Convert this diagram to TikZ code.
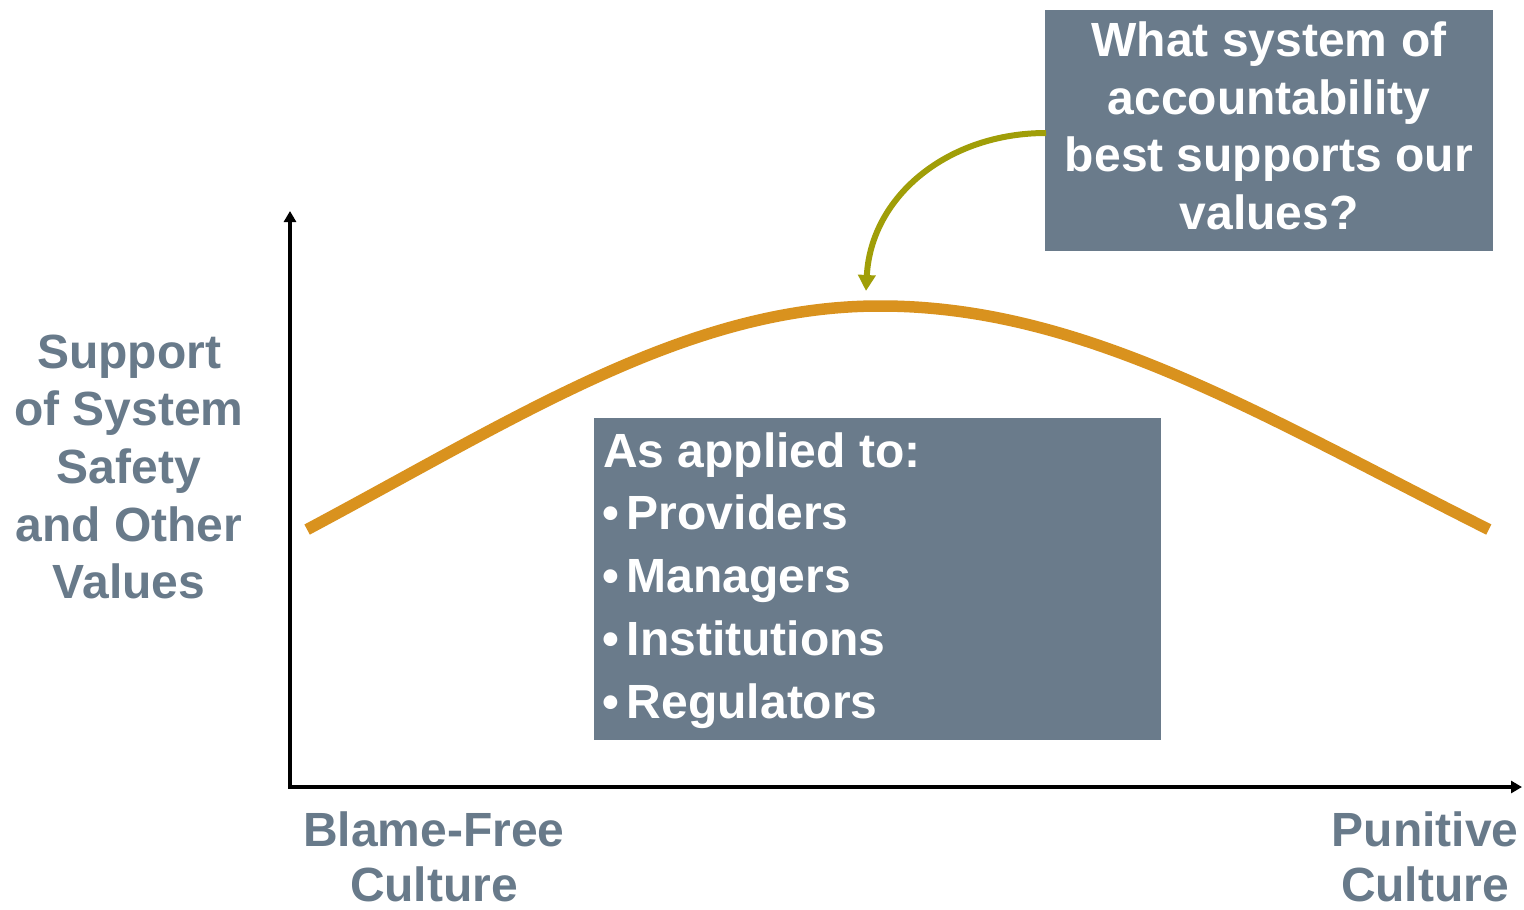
\documentclass[tikz,border=0pt]{standalone}
\usepackage{fontspec}
\setmainfont{Liberation Sans}
\usetikzlibrary{arrows.meta}
\definecolor{slate}{RGB}{106,123,139}
\definecolor{labelgray}{RGB}{104,122,138}
\definecolor{amber}{RGB}{217,146,30}
\definecolor{olive}{RGB}{160,158,8}
\begin{document}
\begin{tikzpicture}[x=1pt,y=-1pt,
  bigtext/.style={font=\fontsize{48}{57.6}\selectfont\bfseries},
  panel/.style={fill=slate,draw=none,inner sep=0pt,anchor=north west},
  paneltext/.style={bigtext,text=white,inner sep=0pt},
  axislabel/.style={bigtext,text=labelgray,align=center,inner sep=0pt},
  baselabel/.style={bigtext,text=labelgray,inner sep=0pt,anchor=base},
  axis/.style={line width=4pt,-{Triangle[length=11pt,width=12pt]}},
  hump/.style={line width=11.5pt,amber,line cap=butt},
  pointer/.style={line width=6pt,olive,-{Triangle[length=16pt,width=17pt]}}]
\useasboundingbox (0,0) rectangle (1524,910);

% axes
\coordinate (origin) at (290,787);
\coordinate (ytop) at (290,211);
\coordinate (xend) at (1522,787);
\draw[axis] ([yshift=2pt]origin) -- (ytop);
\draw[axis] ([xshift=-2pt]origin) -- (xend);

% axis labels
\node[axislabel] (ylab) at (129,467) {Support\\of System\\Safety\\and Other\\Values};
\node[baselabel] (xleft1) at (434,846) {Blame-Free};
\node[baselabel] (xleft2) at (434,901) {Culture};
\node[baselabel] (xright1) at (1425,846) {Punitive};
\node[baselabel] (xright2) at (1425,901) {Culture};

% the hump curve: a bell built from a cosine and a Gaussian (t in hundreds of pt),
% the right flank a little wider than the left
\draw[hump] plot[domain=-5.9:0,samples=80,variable=\t]
    ({880+97.1*\t},{306+150*(1-cos(\t/4.5 r))+160*(1-exp(-\t*\t/28.88))})
  -- plot[domain=0:5.9,samples=80,variable=\t]
    ({880+103.2*\t},{306+150*(1-cos(\t/4.5 r))+160*(1-exp(-\t*\t/28.88))});

% question box
\node[panel,minimum width=448pt,minimum height=241pt] (qbox) at (1045,10) {};
\node[paneltext,align=center] (qtext) at (1269,126)
  {What system of\\accountability\\best supports our\\values?};

% applied-to box
\node[panel,minimum width=567pt,minimum height=322pt] (abox) at (594,418) {};
\node[paneltext,anchor=base west] (a0) at (603,467) {As applied to:};
\node[paneltext,anchor=base west] (a1) at (602,529) {\textbullet\,Providers};
\node[paneltext,anchor=base west] (a2) at (602,592) {\textbullet\,Managers};
\node[paneltext,anchor=base west] (a3) at (602,655) {\textbullet\,Institutions};
\node[paneltext,anchor=base west] (a4) at (602,718) {\textbullet\,Regulators};

% pointer from the question to the peak
\coordinate (qstart) at (1046,133);
\coordinate (peak) at (866,291);
\draw[pointer] (qstart) .. controls (948,133) and (871,196) .. (peak);
\end{tikzpicture}
\end{document}
